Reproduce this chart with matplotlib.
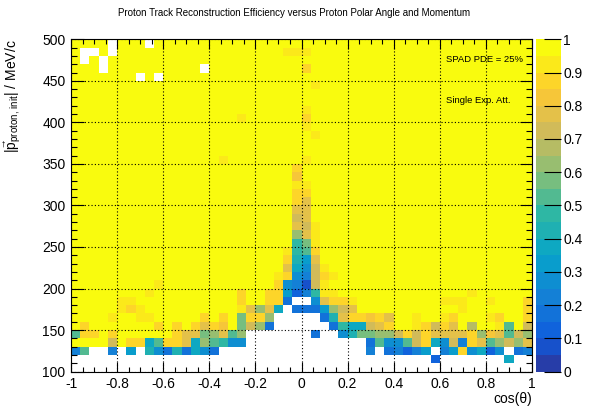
import numpy as np
import matplotlib
matplotlib.use("Agg")
import matplotlib.pyplot as plt
from matplotlib.colors import ListedColormap, BoundaryNorm, LinearSegmentedColormap
from matplotlib.ticker import MultipleLocator

plt.rcParams['font.family'] = ['Liberation Sans', 'DejaVu Sans']
plt.rcParams['mathtext.fontset'] = 'custom'
plt.rcParams['mathtext.rm'] = 'Liberation Sans'
plt.rcParams['mathtext.it'] = 'Liberation Sans:italic'

# binning of the histogram
x_edges = np.linspace(-1, 1, 51)      # cos(theta), 50 bins
y_edges = np.linspace(100, 500, 41)   # momentum, 40 bins

# efficiency levels, one char per bin (0.05 wide classes), '.' = empty bin
level_chars = "0123456789abcdefghij"
# rows listed from top (490-500 MeV/c) down to bottom (100-110 MeV/c)
eff_rows = [
    "jjjj.jjj.j" "jjjjjjjjjj" "jjjjjjjjjj" "jjjjjjjjjj" "jjjjjjjjjj",
    "j..j.jjjjj" "jjjjjjjjjj" "jjjiiijjjj" "jjjjjjjjjj" "jjjjjjjjjj",
    "j.j.jjjjjj" "jjjjjjjjjj" "jjjjjjjjjj" "jjjjjjjjjj" "jjjjjjjjjj",
    "jjj.jjjjjj" "jjjj.jjjjj" "jjjjjhjjjj" "jjjjjjjjjj" "jjjjjjjjjj",
    "jjjjjjj.j." "jjjjjjjjjj" "jjjjjjjjjj" "jjjjjjjjjj" "jjjjjjjjjj",
    "jjjjjjjjjj" "jjjjjjjjjj" "jjjjjjijjj" "jjjjjjjjjj" "jjjjjjjjjj",
    "jjjjjjjjjj" "jjjjjjjjjj" "jjjjjjjjjj" "jjjjjjjjjj" "jjjjjjjjjj",
    "jjjjjjjjjj" "jjjjjjjjjj" "jjjjjjjjjj" "jjjjjjjjjj" "jjjjjjjjjj",
    "jjjjjjjjjj" "jjjjjjjjjj" "jjjjjijjjj" "jjjjjjjjjj" "jjjjjjjjjj",
    "jjjjjjjjjj" "jjjjjjjjij" "jjjjjhjjjj" "jjjjjjjjjj" "jjjjjjjjjj",
    "jjjjjjjjjj" "jjjjjjjjjj" "jjjjjijjjj" "jjjjjjjjjj" "jjjjjjjjjj",
    "jjjjjjjjjj" "jjjjjjjjjj" "jjjjjjijjj" "jjjjjjjjjj" "jjjjjjjjjj",
    "jjjjjjjjjj" "jjjjjjjjjj" "jjjjjjjjjj" "jjjjjjjjjj" "jjjjjjjjjj",
    "jjjjjjjjjj" "jjjjjjjjjj" "jjjjjjjjjj" "jjjjjjjjjj" "jjjjjjjjjj",
    "jjjjjjjjjj" "jjjjjjijjj" "jjjjjijjjj" "jjjjjjjjjj" "jjjjjjjjjj",
    "jjjjjjjjjj" "jjjjjjjjjj" "jjjjhjjjjj" "jjjjjjjjjj" "jjjjjjjjjj",
    "jjjjjjjjjj" "jjjjjjjjjj" "jjjjgjjjjj" "jjjjjjjjjj" "jjjjjjjjjj",
    "jjjjjjjjjj" "jjjjjjjjjj" "jjjjiijjjj" "jjjjjjjjjj" "jjjjjjjjjj",
    "jjjjjjjjjj" "jjjjjjjjjj" "jjjjhhjjjj" "jjjjjjjjjj" "jjjjjjjjjj",
    "jjjjjjjjjj" "jjjjjjjjjj" "jjjjhfjjjj" "jjjjjjjjjj" "jjjjjjjjjj",
    "jjjjjjjjjj" "jjjjjjjjjj" "jjjjffjjjj" "jjjjjjjjjj" "jjjjjjjjjj",
    "jjjjjjjjjj" "jjjjjjjjjj" "jjjjefjjjj" "jjjjjjjjjj" "jjjjjjjjjj",
    "jjjjjjjjjj" "jjjjjjjjjj" "jjjjfeijjj" "jjjjjjjjjj" "jjjjjjjjjj",
    "jjjjjjjjjj" "jjjjjjjjjj" "jjjjcfijjj" "jjjjjjjjjj" "jjjjjjjjjj",
    "jjjjjjjjjj" "jjjjjjjjjj" "jjjj9bijjj" "jjjjjjjjjj" "jjjjjjjjjj",
    "jjjjjjjjjj" "jjjjjjjjjj" "jjji9ahjjj" "jjjjjjjjjj" "jjjjjjjjjj",
    "jjjjjjjjjj" "jjjjjjjjjj" "jjjh86fjjj" "jjjjjjjjjj" "jjjjjjjjjj",
    "jjjjjjjjjj" "jjjjjjjjjj" "jjjf75eijj" "jjjjjjjjjj" "jjjjjjjjjj",
    "jjjjjjjjjj" "jjjjjjjjjj" "jjih54ehij" "jjjjjjjjjj" "jjjjjjjjjj",
    "jjjjjjjjji" "jjjjjjjjjj" "jjh541eijj" "jjjjjjjjjj" "jjjjjjjjjj",
    "jjjjjjjjij" "jjjjjjjjhj" "jhh6249iij" "jjjjjjjjjj" "jjjijjjjjj",
    "jjjjjiijjj" "jjjjjjjjhj" "jhh3..5fhh" "ijjjjjjjjj" "iiijjijjjh",
    "jjjjjihijj" "jjjjjjjjif" "cf7.3336ce" "fjjjjjjjjj" "jjijjjjjjh",
    "jjjjijjiij" "jjjjhjhjbh" "hc.....38f" "hhghfjjijj" "ihjjjihjjh",
    "jhjjjjjjjh" "jhjhfhgjbe" "c3......39" "77efhjjihe" "hfjdjjiaje",
    "ahhjhjjjjj" "jhffbcfac." "......3..5" "8bbccehehf" "fffhcgfaec",
    "jjjjejhh7a" "hhf7ca955." ".........." "..3a55aeh7" "5e4hfacecf",
    "4a..4.6.85" "383753...." ".........." "..4.34246." "46h5725.34",
    ".........." ".........." ".........." ".........2" ".......7..",
    ".........." ".........." ".........." ".........." "..........",
]

eff = np.full((len(eff_rows), 50), np.nan)
for r, row in enumerate(eff_rows[::-1]):
    for c, ch in enumerate(row):
        if ch != '.':
            eff[r, c] = (level_chars.index(ch) + 0.5) / 20.0

# ROOT kBird palette, 20 contour levels
bird_stops = [0.0, 0.125, 0.25, 0.375, 0.5, 0.625, 0.75, 0.875, 1.0]
bird_r = [0.2082, 0.0592, 0.0780, 0.0232, 0.1802, 0.5301, 0.8186, 0.9956, 0.9764]
bird_g = [0.1664, 0.3599, 0.5041, 0.6419, 0.7178, 0.7492, 0.7328, 0.7862, 0.9832]
bird_b = [0.5293, 0.8684, 0.8385, 0.7914, 0.6425, 0.4662, 0.3499, 0.1968, 0.0539]
bird = LinearSegmentedColormap.from_list(
    'bird', list(zip(bird_stops, zip(bird_r, bird_g, bird_b))), N=255)
n_levels = 20
level_cols = [bird(min((k + 0.99) / n_levels * 255 / 254, 1.0)) for k in range(n_levels)]
cmap = ListedColormap(level_cols)
cmap.set_bad('white')
norm = BoundaryNorm(np.linspace(0, 1, n_levels + 1), n_levels)

W, H = 589, 409
fig = plt.figure(figsize=(W / 100, H / 100), dpi=100)
ax = fig.add_axes([71 / W, 1 - 371.6 / H, 461 / W, 332.3 / H])

mesh = ax.pcolormesh(x_edges, y_edges, np.ma.masked_invalid(eff), cmap=cmap, norm=norm)

ax.set_xlim(-1, 1)
ax.set_ylim(100, 500)
ax.xaxis.set_major_locator(MultipleLocator(0.2))
ax.xaxis.set_minor_locator(MultipleLocator(0.05))
ax.yaxis.set_major_locator(MultipleLocator(50))
ax.yaxis.set_minor_locator(MultipleLocator(10))
xt = np.round(np.arange(-1, 1.01, 0.2), 1)
ax.set_xticks(xt)
ax.set_xticklabels(['%g' % v if v != 0 else '0' for v in xt])
ax.tick_params(which='both', direction='in', top=True, right=True, labelsize=10, width=0.8)
ax.tick_params(axis='x', which='major', length=7, pad=4)
ax.tick_params(axis='x', which='minor', length=3.5)
ax.tick_params(axis='y', which='major', length=9, pad=4)
ax.tick_params(axis='y', which='minor', length=4.5)
ax.grid(True, which='major', color='black', linestyle=(0, (1, 2)), linewidth=0.8)
ax.set_axisbelow(False)
for s in ax.spines.values():
    s.set_linewidth(0.8)

ax.set_xlabel('cos(θ)', fontsize=10, ha='right')
ax.xaxis.set_label_coords(1.0, -0.062)
ax.set_ylabel(r'$|\vec{\mathrm{p}}_{\mathrm{proton,\,init}}|$ / MeV/c', fontsize=10, ha='right')
ax.yaxis.set_label_coords(-0.105, 1.0)

ax.text(0.813, 0.938, 'SPAD PDE = 25%', transform=ax.transAxes, fontsize=6.8, va='center')
ax.text(0.813, 0.817, 'Single Exp. Att.', transform=ax.transAxes, fontsize=6.8, va='center')

fig.text(294.5 / W, 1 - 13 / H,
         'Proton Track Reconstruction Efficiency versus Proton Polar Angle and Momentum',
         ha='center', va='center', fontsize=7)

cax = fig.add_axes([536 / W, 1 - 371.6 / H, 24.7 / W, 332.3 / H])
cb = fig.colorbar(mesh, cax=cax, ticks=np.round(np.arange(0, 1.01, 0.1), 1))
cb.outline.set_visible(False)
cb.ax.set_yticklabels(['%g' % v for v in np.round(np.arange(0, 1.01, 0.1), 1)])
cax.tick_params(direction='in', length=12, width=0.8, labelsize=10, pad=2)
cax.minorticks_off()

fig.savefig('out.png', dpi=100)
